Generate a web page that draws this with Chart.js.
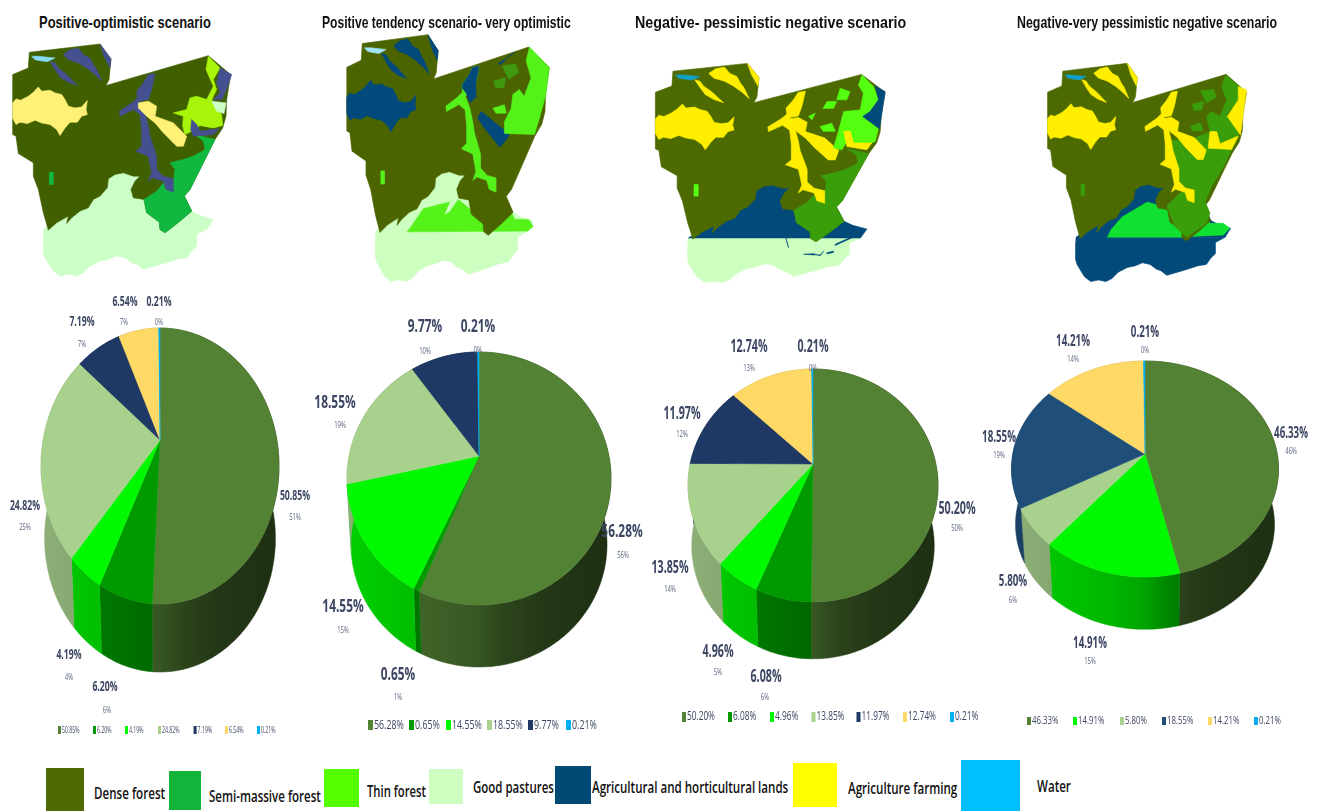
<!DOCTYPE html>
<html>
<head>
<meta charset="utf-8">
<title>Land cover scenarios</title>
<script src="https://cdn.jsdelivr.net/npm/chart.js@4/dist/chart.umd.min.js"></script>
<style>
  html, body { margin: 0; padding: 0; background: #fff; width: 1318px; height: 811px; overflow: hidden; }
  canvas.abs { position: absolute; left: 0; top: 0; }
  .txt { position: absolute; white-space: nowrap; transform-origin: 0 50%; line-height: 1; }
  .title { font: bold 17px "Liberation Sans", Arial, sans-serif; color: #111; }
  .key { font: 600 17px "Open Sans", sans-serif; color: #111; }
  .swatch { position: absolute; }
</style>
</head>
<body>
<script>
// ---------- Scenario data (percent of area) ----------
const scenarioTitles = [
  'Positive-optimistic scenario',
  'Positive tendency scenario- very optimistic',
  'Negative- pessimistic negative scenario',
  'Negative-very pessimistic negative scenario'
];
const pie1Classes = ['Dense forest', 'Semi-massive forest', 'Thin forest', 'Good pastures', 'Agricultural and horticultural lands', 'Agriculture farming', 'Water'];
const pie1Values = [50.85, 6.20, 4.19, 24.82, 7.19, 6.54, 0.21];
const pie2Classes = ['Dense forest', 'Semi-massive forest', 'Thin forest', 'Good pastures', 'Agricultural and horticultural lands', 'Water'];
const pie2Values = [56.28, 0.65, 14.55, 18.55, 9.77, 0.21];
const pie3Classes = pie1Classes;
const pie3Values = [50.20, 6.08, 4.96, 13.85, 11.97, 12.74, 0.21];
const pie4Classes = ['Dense forest', 'Thin forest', 'Good pastures', 'Agricultural and horticultural lands', 'Agriculture farming', 'Water'];
const pie4Values = [46.33, 14.91, 5.80, 18.55, 14.21, 0.21];

// ---------- Legend along the bottom ----------
const keyLabels = ['Dense forest', 'Semi-massive forest', 'Thin forest', 'Good pastures', 'Agricultural and horticultural lands', 'Agriculture farming', 'Water'];
const keyColors = ['#4f6a00', '#12b53a', '#55ff00', '#ccffc0', '#004a75', '#ffff00', '#00bfff'];
const keySwatches = [[46,768,38,43],[169,771,32,39],[324,769,35,38],[429,769,34,35],[555,766,36,38],[793,763,44,44],[961,760,59,51]];
const keyText = [[94,792,71],[209,795,112],[367,790,59],[473,786,81],[592,786,196],[848,787,109],[1037,785,34]];

// ---------- Pie styling and layout ----------
const sliceColors = {
  'Dense forest': '#548235', 'Semi-massive forest': '#009a00', 'Thin forest': '#00f800',
  'Good pastures': '#a9d18e', 'Agricultural and horticultural lands': '#1f3864',
  'Agriculture farming': '#ffd966', 'Water': '#00b0f0'
};
const pieFrames = [
  { box: [0, 285, 330, 460],   apex: [160, 440],  up: 112, down: 164, halfW: 119, drop: 73,   font: 15, sx: 0.58,
    keyY: 730, keyFont: 9.5, keySx: 0.55, keyBox: [3, 8], keyX: [58, 93, 125, 158, 193.6, 225, 257] },
  { box: [300, 300, 355, 440], apex: [479, 456],  up: 104, down: 149, halfW: 132, drop: 66.5, font: 18, sx: 0.66,
    keyY: 725, keyFont: 13, keySx: 0.68, keyBox: [5, 10], keyX: [368, 409, 446, 487, 528, 566] },
  { box: [640, 320, 340, 410], apex: [813, 464],  up: 95,  down: 138, halfW: 125, drop: 61,   font: 17, sx: 0.63,
    keyY: 717, keyFont: 12, keySx: 0.69, keyBox: [4, 10], keyX: [682, 728, 770, 811.5, 856.5, 903, 950] },
  { box: [975, 320, 343, 410], apex: [1145, 454], up: 93,  down: 123, halfW: 133.5, drop: 56, font: 15.5, sx: 0.63,
    keyY: 721, keyFont: 10, keySx: 0.78, keyBox: [4, 8], keyX: [1027, 1073, 1120, 1162, 1208, 1254] }
];
// Label centres in page pixels: [value x, value y, percent x, percent y]
const pieLabelSpots = [
  [[295,496,295,518],[105,687,107,711],[69,655,69,678],[25,506,25,528],[82,322,82,345],[125,302,124,323],[159,302,159,323]],
  [[622,532,623,556],[398,675,398,698],[343,607,343,631],[335,403,340,426],[425,327,425,352],[478,327,478,351]],
  [[957,509,957,529],[766,677,765,698],[718,652,718,673],[670,568,670,590],[682,414,682,435],[749,347,749,369],[813,347,813,369]],
  [[1291,434,1291,452],[1090,644,1090,662],[1013,582,1013,601],[999,438,999,456],[1073,342,1073,360],[1145,333,1145,351]]
];

// ---------- Study-area regions, in map units ----------
const upperBlock = [[88,158],[300,133],[333,178],[327,240],[318,258],[625,168],[692,225],[680,300],[678,350],[668,385],[645,420],[620,470],[595,520],[570,570],[553,590],[575,635],[540,665],[495,700],[480,690],[478,668],[440,640],[432,600],[400,595],[393,570],[405,545],[420,530],[400,530],[370,520],[345,525],[325,538],[322,565],[300,590],[280,600],[265,625],[240,635],[215,655],[200,672],[205,650],[170,670],[145,692],[130,640],[115,570],[100,530],[100,490],[55,462],[48,410],[38,405],[38,225],[85,205]];
const southBelt = [[132,688],[622,688],[590,705],[590,740],[575,755],[560,775],[530,780],[500,790],[465,800],[430,810],[410,795],[395,790],[375,775],[350,770],[325,780],[300,785],[270,800],[250,820],[230,830],[205,825],[180,830],[160,815],[150,800],[135,775],[130,760],[130,710]];
const inletBelt = [[132,688],[205,640],[290,580],[325,520],[420,520],[450,620],[540,620],[553,590],[575,635],[600,648],[640,660],[622,688]];
const westBlob = [[38,310],[48,298],[62,302],[85,290],[100,278],[115,262],[125,275],[150,272],[165,280],[185,285],[195,300],[205,320],[225,325],[245,322],[262,303],[258,330],[262,345],[245,350],[232,368],[210,368],[195,385],[180,408],[170,390],[150,375],[125,370],[105,362],[82,372],[60,368],[48,375],[38,355]];
const centralRiver = [[445,225],[465,222],[455,270],[445,300],[420,305],[435,340],[445,380],[450,410],[470,470],[470,510],[490,530],[520,538],[520,578],[498,570],[490,545],[458,535],[445,545],[455,520],[445,470],[408,455],[425,440],[425,390],[420,345],[400,330],[360,350],[358,335],[395,310],[412,295],[410,275],[430,250]];
const riverHead = [[445,225],[465,222],[455,270],[455,310],[435,325],[425,300],[412,285],[410,275],[430,250]];
const eastBranch = [[415,310],[445,305],[470,320],[465,350],[520,370],[560,410],[550,440],[530,440],[490,400],[465,370],[440,350],[415,325]];
const northStrip = [[190,165],[210,150],[235,145],[250,165],[270,175],[280,195],[290,210],[305,245],[285,225],[260,205],[235,190],[205,180]];
const cornerStrip = [[300,133],[333,178],[330,205],[312,170]];
const lowerStrip = [[150,185],[165,190],[175,205],[200,225],[232,258],[205,248],[180,232],[165,210]];
const lake = [[95,170],[115,170],[165,175],[142,186],[120,183],[105,180]];
const westPatch = [[148,518],[160,518],[160,555],[148,555]];
const seLobe = [[585,405],[645,420],[620,470],[595,520],[570,570],[553,590],[575,635],[540,665],[495,700],[480,690],[478,668],[440,640],[432,600],[470,575],[495,545],[520,545],[525,510],[510,490],[550,480],[580,470],[615,450],[610,425]];
const fleckA = [[564,212],[592,223],[583,249],[554,249]];
const fleckB = [[515,276],[527,254],[554,254],[545,276]];
const fleckC = [[507,334],[540,323],[550,349],[516,349]];
const fleckD = [[474,302],[493,291],[484,312]];
// Scenario 1 eastern mosaic
const limeEast = [[625,170],[660,205],[640,240],[650,270],[640,290],[635,305],[665,345],[668,378],[640,385],[600,378],[575,395],[555,405],[548,380],[550,350],[520,340],[560,330],[570,295],[590,290],[620,300],[640,260],[618,210]];
const edgeEast = [[660,205],[695,225],[680,270],[665,300],[640,300],[660,280],[650,250]];
const paleEast = [[635,305],[678,310],[672,342],[650,335]];
const bayEast = [[575,360],[590,375],[600,395],[658,388],[640,405],[580,410],[572,390]];
// Scenario 2 regions
const thinEast2 = [[628,168],[692,226],[681,302],[660,369],[644,415],[547,412],[547,379],[569,341],[574,302],[595,288],[611,307],[633,255],[617,207]];
const branch2 = [[472,350],[494,365],[520,384],[547,403],[563,417],[547,436],[531,451],[510,427],[483,398],[461,369]];
const fleck2a = [[540,221],[583,216],[593,240],[561,259]];
const fleck2b = [[513,264],[551,254],[545,283],[519,283]];
const fleck2c = [[510,341],[547,331],[553,355],[520,355]];
const notch2 = [[526,216],[580,183],[563,192],[537,216]];
const thinInlet2 = [[233,690],[250,670],[285,625],[340,612],[400,600],[470,650],[520,640],[545,600],[565,625],[580,655],[625,655],[640,675],[622,688]];
const paleStripe2 = [[355,640],[375,600],[395,600],[370,632]];
// Scenario 3 regions
const thinEast3 = [[626,170],[659,207],[673,249],[649,297],[673,339],[664,381],[621,402],[583,381],[569,408],[545,402],[559,349],[574,286],[621,281],[630,228],[616,202]];
const edgeEast3 = [[664,205],[692,223],[676,342],[654,323],[628,302],[649,286],[673,249]];
const patch3 = [[574,349],[593,349],[602,386],[654,386],[640,408],[583,397]];
const squiggle3a = [[408,682],[417,719],[412,700]];
const squiggle3b = [[460,740],[488,738],[507,745],[517,730],[507,742],[488,742]];
const squiggle3c = [[526,735],[545,730],[545,734],[526,739]];
const squiggle3d = [[550,708],[597,684],[597,688],[550,712]];
// Scenario 4 regions
const midEast4 = [[624,170],[670,210],[665,250],[627,298],[670,340],[665,367],[643,410],[616,463],[577,527],[556,575],[572,612],[561,644],[495,688],[457,654],[435,601],[430,588],[490,532],[517,569],[517,537],[473,521],[451,431],[430,378],[506,378],[572,351],[561,303],[577,287],[605,303],[627,250],[610,207]];
const yellowEast4 = [[665,207],[692,218],[672,362],[629,303],[665,250]];
const patch4 = [[572,351],[594,351],[605,390],[665,365],[643,408],[566,404]];
const thinInlet4 = [[233,688],[244,665],[282,622],[364,575],[397,585],[430,588],[441,622],[495,688]];
const thinRight4 = [[561,612],[572,644],[616,644],[637,660],[616,681],[506,686],[495,688]];
const navyBand4 = [[134,692],[211,633],[255,590],[309,559],[331,521],[413,521],[391,569],[364,575],[282,622],[244,665],[233,688]];

// Map colours per scenario
const mapPalettes = [
  { dense: '#406000', nav: '#44508f', yel: '#fff176', lime: '#a8f50a', semi: '#10b840', pale: '#ccffc8', water: '#86dcf5' },
  { dense: '#4c6400', nav: '#02497c', thin: '#55f21a', mid: '#3f9a10', pale: '#ccffc0', water: '#9fe4f5' },
  { dense: '#4c6a00', nav: '#024a7a', yel: '#ffee00', thin: '#55ff10', mid: '#3a9e0a', pale: '#ccffc0', water: '#109fc8' },
  { dense: '#4c6a00', nav: '#024a7a', yel: '#ffee00', thin: '#10e030', mid: '#3a9e0a', water: '#109fc8' }
];
// Painter's order for each scenario map: [region, colour key]
const mapLayers = [
  [[southBelt,'pale'],[inletBelt,'pale'],[upperBlock,'dense'],[seLobe,'semi'],[westBlob,'yel'],[centralRiver,'nav'],[eastBranch,'yel'],[northStrip,'nav'],[cornerStrip,'nav'],[lowerStrip,'nav'],[limeEast,'lime'],[edgeEast,'nav'],[paleEast,'pale'],[bayEast,'nav'],[westPatch,'semi'],[lake,'water']],
  [[southBelt,'pale'],[inletBelt,'pale'],[thinInlet2,'thin'],[paleStripe2,'pale'],[upperBlock,'dense'],[westBlob,'nav'],[centralRiver,'thin'],[riverHead,'nav'],[branch2,'nav'],[northStrip,'nav'],[cornerStrip,'nav'],[lowerStrip,'nav'],[thinEast2,'thin'],[fleck2a,'mid'],[fleck2b,'mid'],[fleck2c,'thin'],[notch2,'nav'],[westPatch,'thin'],[lake,'water']],
  [[southBelt,'pale'],[inletBelt,'nav'],[upperBlock,'dense'],[seLobe,'mid'],[westBlob,'yel'],[centralRiver,'yel'],[eastBranch,'yel'],[northStrip,'yel'],[cornerStrip,'yel'],[lowerStrip,'yel'],[thinEast3,'thin'],[edgeEast3,'nav'],[patch3,'yel'],[fleckA,'thin'],[fleckB,'thin'],[fleckC,'thin'],[fleckD,'thin'],[westPatch,'thin'],[squiggle3a,'nav'],[squiggle3b,'nav'],[squiggle3c,'nav'],[squiggle3d,'nav'],[lake,'water']],
  [[southBelt,'nav'],[inletBelt,'nav'],[thinInlet4,'thin'],[thinRight4,'thin'],[navyBand4,'nav'],[upperBlock,'dense'],[midEast4,'mid'],[westBlob,'yel'],[centralRiver,'yel'],[eastBranch,'yel'],[northStrip,'yel'],[cornerStrip,'yel'],[lowerStrip,'yel'],[yellowEast4,'yel'],[patch4,'yel'],[fleck2a,'mid'],[fleck2b,'mid'],[fleckC,'mid'],[westPatch,'mid'],[lake,'water']]
];
const mapFrames = [
  [0, 33.3, 240, 253.3],
  [334.8, 22.6, 223.9, 269.8],
  [641.6, 52.9, 253.2, 239.9],
  [1035.8, 53, 219.4, 238.1]
];
const mapRangeX = [0, 720];
const mapRangeY = [100, 860];

// ---------- Helpers ----------
function addCanvas(box) {
  const wrap = document.createElement('div');
  wrap.style.cssText = 'position:absolute;left:' + box[0] + 'px;top:' + box[1] + 'px;width:' + box[2] + 'px;height:' + box[3] + 'px;';
  const c = document.createElement('canvas');
  c.className = 'abs';
  c.width = box[2];
  c.height = box[3];
  wrap.appendChild(c);
  document.body.appendChild(wrap);
  return c;
}
function shadeColor(hex, f) {
  const n = parseInt(hex.slice(1), 16);
  const r = Math.round(((n >> 16) & 255) * f), g = Math.round(((n >> 8) & 255) * f), b = Math.round((n & 255) * f);
  return 'rgb(' + r + ',' + g + ',' + b + ')';
}
const wallShades = [[0, 0.84], [0.35, 0.74], [0.5, 0.66], [0.6, 0.52], [0.75, 0.42], [1, 0.36]];

// Pie seen from an oblique camera: the library lays out the arc angles,
// this controller projects them onto a receding disc with a solid side wall.
class ObliquePieController extends Chart.PieController {
  draw() {
    const chart = this.chart, ctx = chart.ctx;
    const ds = this.getDataset();
    const f = ds.frame;
    const arcs = this._cachedMeta.data;
    const ox = f.box[0], oy = f.box[1];
    const ax = f.apex[0] - ox, ay = f.apex[1] - oy;
    const ratio = f.down / f.up;
    const t = (ratio - 1) / (ratio + 1);
    const a = f.down * (1 - t);
    const b = f.halfW * Math.sqrt(1 - t * t);
    const shrink = 0.97;
    const top = ang => {
      const u = Math.cos(ang), v = Math.sin(ang), d = 1 - t * v;
      return [b * u / d, a * v / d];
    };
    const angles = (s, e) => {
      const out = [], n = Math.max(2, Math.ceil((e - s) / 0.02));
      for (let i = 0; i <= n; i++) out.push(s + (e - s) * i / n);
      return out;
    };
    ctx.save();
    // Side walls first; the top face hides whatever falls behind it.
    arcs.forEach(arc => {
      const list = angles(arc.startAngle, arc.endAngle);
      const grad = ctx.createLinearGradient(ax - f.halfW, 0, ax + f.halfW, 0);
      wallShades.forEach(s => grad.addColorStop(s[0], shadeColor(arc.options.backgroundColor, s[1])));
      ctx.beginPath();
      list.forEach((g, i) => {
        const p = top(g);
        if (i) ctx.lineTo(ax + p[0], ay + p[1]); else ctx.moveTo(ax + p[0], ay + p[1]);
      });
      list.slice().reverse().forEach(g => {
        const p = top(g);
        ctx.lineTo(ax + p[0] * shrink, ay + p[1] * shrink + f.drop);
      });
      ctx.closePath();
      ctx.fillStyle = grad;
      ctx.strokeStyle = grad;
      ctx.lineWidth = 0.5;
      ctx.fill();
      ctx.stroke();
    });
    // Top face
    arcs.forEach(arc => {
      ctx.beginPath();
      ctx.moveTo(ax, ay);
      angles(arc.startAngle, arc.endAngle).forEach(g => {
        const p = top(g);
        ctx.lineTo(ax + p[0], ay + p[1]);
      });
      ctx.closePath();
      ctx.fillStyle = arc.options.backgroundColor;
      ctx.strokeStyle = arc.options.backgroundColor;
      ctx.lineWidth = 0.5;
      ctx.fill();
      ctx.stroke();
    });
    // Value labels: exact share above the rounded share, then the small key row
    ctx.textBaseline = 'middle';
    ds.data.forEach((val, i) => {
      const spot = ds.spots[i];
      const text = val.toFixed(2) + '%';
      ctx.textAlign = 'center';
      ctx.fillStyle = '#3c4663';
      ctx.save();
      ctx.translate(spot[0] - ox, spot[1] - oy);
      ctx.scale(f.sx, 1);
      ctx.font = '700 ' + f.font + 'px "Open Sans", sans-serif';
      ctx.fillText(text, 0, 0);
      ctx.restore();
      ctx.fillStyle = '#5a6480';
      ctx.save();
      ctx.translate(spot[2] - ox, spot[3] - oy);
      ctx.scale(0.7, 1);
      ctx.font = '400 8.5px "Open Sans", sans-serif';
      ctx.fillText(Math.round(val) + '%', 0, 0);
      ctx.restore();
      const kx = f.keyX[i] - ox, ky = f.keyY - oy;
      ctx.fillStyle = arcs[i].options.backgroundColor;
      ctx.fillRect(kx, ky - f.keyBox[1] / 2, f.keyBox[0], f.keyBox[1]);
      ctx.fillStyle = '#3c4663';
      ctx.textAlign = 'left';
      ctx.save();
      ctx.translate(kx + f.keyBox[0] + 1, ky);
      ctx.scale(f.keySx, 1);
      ctx.font = '400 ' + f.keyFont + 'px "Open Sans", sans-serif';
      ctx.fillText(text, 0, 0);
      ctx.restore();
    });
    ctx.restore();
  }
}
ObliquePieController.id = 'obliquePie';
ObliquePieController.defaults = Chart.PieController.defaults;
Chart.register(ObliquePieController);

// Filled closed polygon whose vertices are placed by the chart's linear scales.
class RegionController extends Chart.ScatterController {
  draw() {
    const ctx = this.chart.ctx;
    const pts = this._cachedMeta.data;
    const ds = this.getDataset();
    ctx.save();
    ctx.beginPath();
    pts.forEach((p, i) => { if (i) ctx.lineTo(p.x, p.y); else ctx.moveTo(p.x, p.y); });
    ctx.closePath();
    ctx.fillStyle = ds.regionColor;
    ctx.strokeStyle = ds.regionColor;
    ctx.lineWidth = 0.6;
    ctx.lineJoin = 'round';
    ctx.fill();
    ctx.stroke();
    ctx.restore();
  }
}
RegionController.id = 'region';
RegionController.defaults = Chart.ScatterController.defaults;
Chart.register(RegionController);

// ---------- Maps ----------
mapLayers.forEach((layers, m) => {
  const palette = mapPalettes[m];
  new Chart(addCanvas(mapFrames[m]), {
    type: 'region',
    data: {
      datasets: layers.slice().reverse().map(l => ({
        data: l[0],
        regionColor: palette[l[1]],
        pointRadius: 0
      }))
    },
    options: {
      responsive: false, animation: false, events: [],
      layout: { padding: 0 },
      plugins: { legend: { display: false }, tooltip: { enabled: false } },
      scales: {
        x: { type: 'linear', display: false, min: mapRangeX[0], max: mapRangeX[1] },
        y: { type: 'linear', display: false, reverse: true, min: mapRangeY[0], max: mapRangeY[1] }
      }
    }
  });
});

// ---------- Pies ----------
const pieClasses = [pie1Classes, pie2Classes, pie3Classes, pie4Classes];
const pieValues = [pie1Values, pie2Values, pie3Values, pie4Values];
pieValues.forEach((values, i) => {
  const frame = pieFrames[i];
  const colors = pieClasses[i].map(c => (i === 3 && c.startsWith('Agricultural')) ? '#1f4e79' : sliceColors[c]);
  new Chart(addCanvas(frame.box), {
    type: 'obliquePie',
    data: {
      labels: pieClasses[i],
      datasets: [{ data: values, backgroundColor: colors, borderWidth: 0, frame: frame, spots: pieLabelSpots[i] }]
    },
    options: {
      responsive: false, animation: false, events: [],
      layout: { padding: 0 },
      plugins: { tooltip: { enabled: false }, legend: { display: false } }
    }
  });
});

// ---------- Titles and bottom legend ----------
function placeText(text, cls, x, cy, width) {
  const s = document.createElement('span');
  s.className = 'txt ' + cls;
  s.textContent = text;
  s.style.left = x + 'px';
  document.body.appendChild(s);
  s.style.top = (cy - s.offsetHeight / 2) + 'px';
  s.style.transform = 'scaleX(' + (width / s.offsetWidth) + ')';
}
const titleSpots = [[39, 23, 172], [322, 23, 249], [635, 23, 271], [1017, 23, 260]];
scenarioTitles.forEach((t, i) => placeText(t, 'title', titleSpots[i][0], titleSpots[i][1], titleSpots[i][2]));
keyLabels.forEach((label, i) => {
  const b = keySwatches[i];
  const d = document.createElement('div');
  d.className = 'swatch';
  d.style.cssText = 'left:' + b[0] + 'px;top:' + b[1] + 'px;width:' + b[2] + 'px;height:' + b[3] + 'px;background:' + keyColors[i];
  document.body.appendChild(d);
  placeText(label, 'key', keyText[i][0], keyText[i][1], keyText[i][2]);
});
</script>
</body>
</html>
